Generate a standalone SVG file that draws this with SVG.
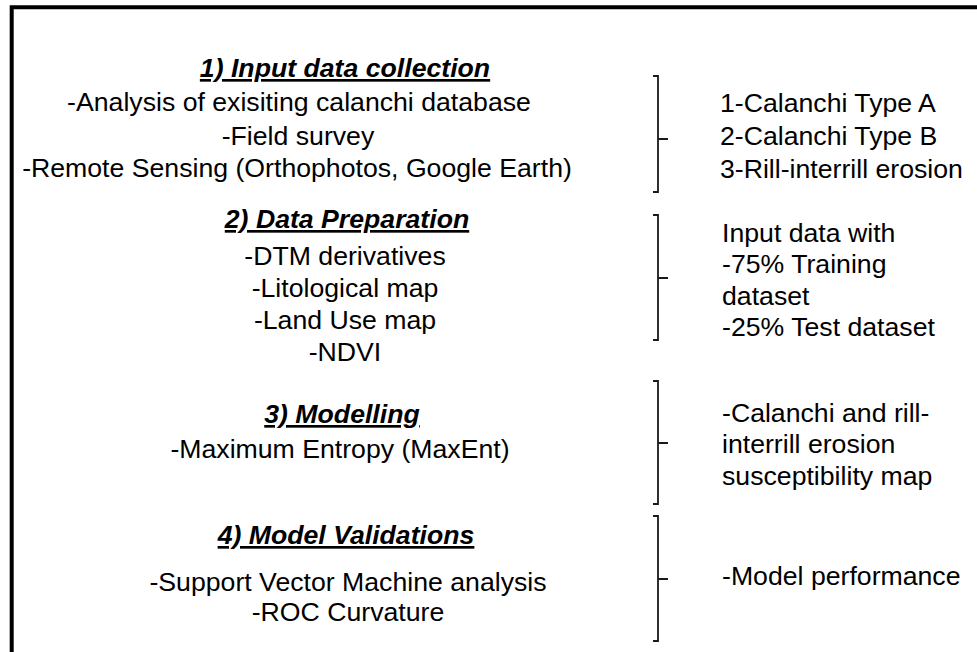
<svg xmlns="http://www.w3.org/2000/svg" width="977" height="652" viewBox="0 0 977 652">
<style>
  text { font-family: "Liberation Sans", Arial, sans-serif; font-size: 26.67px; fill: #000; }
  .t { font-weight: bold; font-style: italic; text-decoration: underline; text-anchor: middle; }
  .c { text-anchor: middle; }
  .r { text-anchor: start; }
  .br { fill: none; stroke: #1a1a1a; stroke-width: 1.8; }
  .frame { fill: none; stroke: #000; stroke-width: 4; }
</style>
<rect width="977" height="652" fill="#fff"/>
<path class="frame" d="M11.7 652 V7.3 H977"/>

<g id="step1">
  <text class="t" x="345" y="77">1) Input data collection</text>
  <text class="c" x="299" y="111">-Analysis of exisiting calanchi database</text>
  <text class="c" x="298" y="145">-Field survey</text>
  <text class="c" x="297" y="177">-Remote Sensing (Orthophotos, Google Earth)</text>
</g>
<g id="step2">
  <text class="t" x="347" y="228">2) Data Preparation</text>
  <text class="c" x="345" y="265">-DTM derivatives</text>
  <text class="c" x="345" y="297">-Litological map</text>
  <text class="c" x="345" y="329">-Land Use map</text>
  <text class="c" x="345" y="361">-NDVI</text>
</g>
<g id="step3">
  <text class="t" x="342" y="423">3) Modelling</text>
  <text class="c" x="340" y="458">-Maximum Entropy (MaxEnt)</text>
</g>
<g id="step4">
  <text class="t" x="346" y="544">4) Model Validations</text>
  <text class="c" x="348" y="591">-Support Vector Machine analysis</text>
  <text class="c" x="348" y="621">-ROC Curvature</text>
</g>

<g id="out1">
  <text class="r" x="720" y="112">1-Calanchi Type A</text>
  <text class="r" x="720" y="145">2-Calanchi Type B</text>
  <text class="r" x="720" y="178">3-Rill-interrill erosion</text>
</g>
<g id="out2">
  <text class="r" x="722" y="242">Input data with</text>
  <text class="r" x="722" y="273">-75% Training</text>
  <text class="r" x="722" y="305">dataset</text>
  <text class="r" x="722" y="336">-25% Test dataset</text>
</g>
<g id="out3">
  <text class="r" x="722" y="422">-Calanchi and rill-</text>
  <text class="r" x="722" y="453">interrill erosion</text>
  <text class="r" x="722" y="485">susceptibility map</text>
</g>
<g id="out4">
  <text class="r" x="722" y="585">-Model performance</text>
</g>

<g id="connectors">
  <path class="br" d="M653 76 H658 V192 H653 M658 139 H668"/>
  <path class="br" d="M653 215 H658 V340 H653 M658 278 H668"/>
  <path class="br" d="M653 381 H658 V504 H653 M658 443 H668"/>
  <path class="br" d="M653 516 H658 V641 H653 M658 579 H668"/>
</g>
</svg>
